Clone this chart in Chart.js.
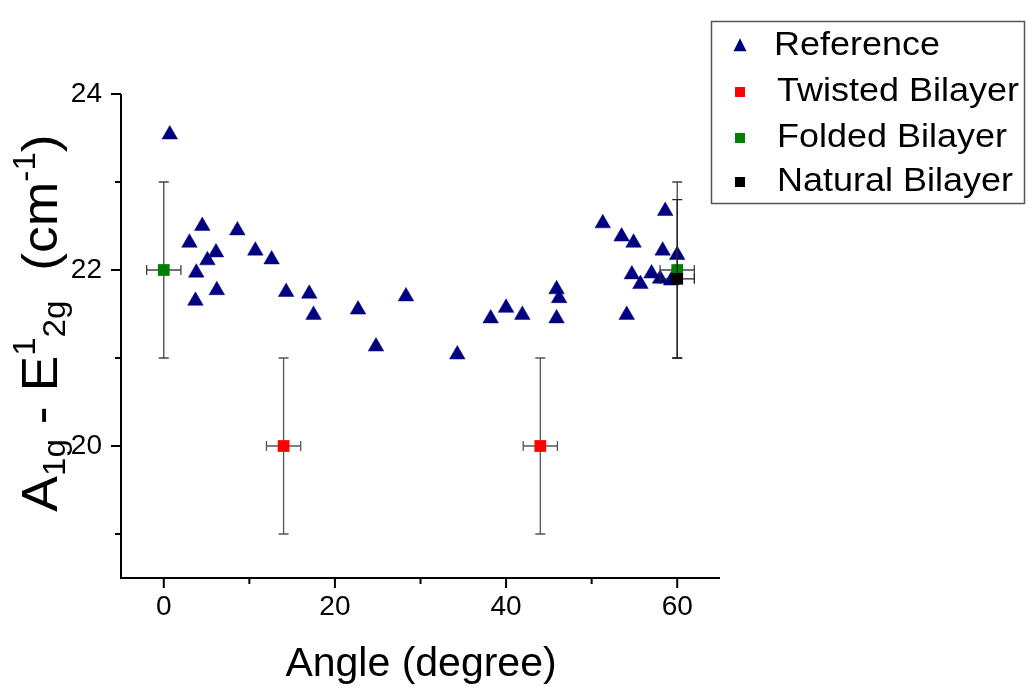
<!DOCTYPE html>
<html>
<head>
<meta charset="utf-8">
<script src="https://cdn.jsdelivr.net/npm/chart.js@4.4.1/dist/chart.umd.min.js"></script>
<style>
  html, body { margin: 0; padding: 0; background: #fff; }
  #wrap { width: 1029px; height: 687px; }
</style>
</head>
<body>
<div id="wrap"><canvas id="chart" width="1029" height="687"></canvas></div>
<script>
// -- data --
const refAngle = [0.7, 4.5, 8.6, 3.0, 6.1, 5.1, 10.7, 12.6, 3.8, 6.2, 3.7, 14.3, 17.0, 17.5,
  22.7, 24.8, 28.3, 34.3, 38.2, 40.0, 41.9, 45.9, 46.2, 45.9, 51.3, 53.5, 54.9,
  58.6, 58.3, 60.0, 54.7, 57.0, 55.7, 58.0, 59.3, 54.1];
const refShift = [23.54, 22.50, 22.45, 22.31, 22.20, 22.11, 22.22, 22.12, 21.97, 21.77, 21.65, 21.75, 21.73, 21.49,
  21.55, 21.13, 21.70, 21.04, 21.45, 21.57, 21.49, 21.78, 21.68, 21.45, 22.53, 22.38, 22.31,
  22.67, 22.22, 22.17, 21.95, 21.96, 21.84, 21.90, 21.88, 21.49];

const twistedAngle = [14, 44];
const twistedShift = [20, 20];
const twistedAngleErr = [2, 2];
const twistedShiftErr = [1, 1];

const foldedAngle = [0, 60];
const foldedShift = [22, 22];
const foldedAngleErr = [2, 2];
const foldedShiftErr = [1, 1];

const naturalAngle = [60];
const naturalShift = [21.9];
const naturalAngleErr = [2];
const naturalShiftErr = [0.9];

const xMajorTicks = [0, 20, 40, 60];
const xMinorTicks = [10, 30, 50];
const yMajorTicks = [20, 22, 24];
const yMinorTicks = [19, 21, 23];

const legendLabels = ['Reference', 'Twisted Bilayer', 'Folded Bilayer', 'Natural Bilayer'];
const xTitle = 'Angle (degree)';

const FONT = '"Liberation Sans", Arial, sans-serif';
const NAVY = '#000080';

const pts = (xs, ys) => xs.map((x, i) => ({ x, y: ys[i] }));

// error bars go under each dataset's own markers
const errorBars = {
  id: 'errorBars',
  beforeDatasetDraw(chart, args) {
    const ds = chart.data.datasets[args.index];
    if (!ds.xErr) return;
    const { ctx, scales: { x, y } } = chart;
    ctx.save();
    ctx.strokeStyle = ds.errColor;
    ctx.lineWidth = 1.3;
    ds.data.forEach((p, i) => {
      const px = x.getPixelForValue(p.x);
      const py = y.getPixelForValue(p.y);
      const y1 = y.getPixelForValue(p.y + ds.yErr[i]);
      const y2 = y.getPixelForValue(p.y - ds.yErr[i]);
      const x1 = x.getPixelForValue(p.x - ds.xErr[i]);
      const x2 = x.getPixelForValue(p.x + ds.xErr[i]);
      ctx.beginPath();
      ctx.moveTo(px, y1); ctx.lineTo(px, y2);
      ctx.moveTo(px - 5, y1); ctx.lineTo(px + 5, y1);
      ctx.moveTo(px - 5, y2); ctx.lineTo(px + 5, y2);
      ctx.moveTo(x1, py); ctx.lineTo(x2, py);
      ctx.moveTo(x1, py - 5); ctx.lineTo(x1, py + 5);
      ctx.moveTo(x2, py - 5); ctx.lineTo(x2, py + 5);
      ctx.stroke();
    });
    ctx.restore();
  },
};

function drawYTitle(ctx, cx, cy) {
  const parts = [
    { t: 'A', f: 50, dy: 0 },
    { t: '1g', f: 31, dy: 8 },
    { t: ' - ', f: 50, dy: 0 },
    { t: 'E', f: 50, dy: 0 },
    { t: '1', f: 31, dy: -22 },
    { t: '2g', f: 31, dy: 8 },
    { t: '  (cm', f: 50, dy: 0 },
    { t: '-1', f: 31, dy: -22 },
    { t: ')', f: 50, dy: 0 },
  ];
  ctx.save();
  let total = 0;
  parts.forEach(p => {
    ctx.font = p.f + 'px ' + FONT;
    p.w = ctx.measureText(p.t).width;
    total += p.w;
  });
  ctx.translate(cx, cy);
  ctx.rotate(-Math.PI / 2);
  ctx.scale(1.07, 1);
  ctx.fillStyle = '#000';
  ctx.textBaseline = 'alphabetic';
  let pos = -total / 2;
  parts.forEach(p => {
    ctx.font = p.f + 'px ' + FONT;
    ctx.fillText(p.t, pos, p.dy);
    pos += p.w;
  });
  ctx.restore();
}

function marker(ctx, kind, x, y, s, color) {
  ctx.fillStyle = color;
  ctx.beginPath();
  if (kind === 'tri') {
    ctx.moveTo(x, y - s * 0.6);
    ctx.lineTo(x + s / 2, y + s * 0.4);
    ctx.lineTo(x - s / 2, y + s * 0.4);
    ctx.closePath();
  } else {
    ctx.rect(x - s / 2, y - s / 2, s, s);
  }
  ctx.fill();
}

const frame = {
  id: 'frame',
  afterDraw(chart) {
    const { ctx, chartArea: a, scales: { x, y } } = chart;
    ctx.save();
    ctx.strokeStyle = '#000';
    ctx.lineWidth = 2;
    ctx.beginPath();
    ctx.moveTo(a.left, a.top);
    ctx.lineTo(a.left, a.bottom);
    ctx.lineTo(a.right, a.bottom);
    xMajorTicks.forEach(v => { const p = x.getPixelForValue(v); ctx.moveTo(p, a.bottom); ctx.lineTo(p, a.bottom + 10); });
    xMinorTicks.forEach(v => { const p = x.getPixelForValue(v); ctx.moveTo(p, a.bottom); ctx.lineTo(p, a.bottom + 6); });
    yMajorTicks.forEach(v => { const p = y.getPixelForValue(v); ctx.moveTo(a.left, p); ctx.lineTo(a.left - 10, p); });
    yMinorTicks.forEach(v => { const p = y.getPixelForValue(v); ctx.moveTo(a.left, p); ctx.lineTo(a.left - 6, p); });
    ctx.stroke();

    // axis titles
    ctx.fillStyle = '#000';
    ctx.font = '41px ' + FONT;
    ctx.textAlign = 'center';
    ctx.textBaseline = 'alphabetic';
    ctx.fillText(xTitle, 421, 676);
    ctx.textAlign = 'left';
    drawYTitle(ctx, 57, 323);

    // legend
    ctx.strokeStyle = '#555';
    ctx.lineWidth = 1.5;
    ctx.strokeRect(711.5, 21.5, 313, 182);
    const rows = [
      { kind: 'tri', color: NAVY, y: 46, tx: 774 },
      { kind: 'sq', color: '#ff0000', y: 92, tx: 777 },
      { kind: 'sq', color: '#008000', y: 138, tx: 777 },
      { kind: 'sq', color: '#000000', y: 182, tx: 777 },
    ];
    ctx.font = '33px ' + FONT;
    ctx.textBaseline = 'middle';
    rows.forEach((r, i) => {
      marker(ctx, r.kind, 740, r.y, r.kind === 'tri' ? 13 : 10, r.color);
      ctx.save();
      ctx.translate(r.tx, r.y);
      ctx.scale(1.09, 1);
      ctx.fillStyle = '#000';
      ctx.fillText(legendLabels[i], 0, 0);
      ctx.restore();
    });
    ctx.restore();
  },
};

const tickFont = { family: FONT, size: 28 };

new Chart(document.getElementById('chart'), {
  type: 'scatter',
  data: {
    datasets: [
      {
        label: legendLabels[0],
        data: pts(refAngle, refShift),
        pointStyle: 'triangle',
        pointRadius: 9,
        backgroundColor: NAVY,
        borderColor: NAVY,
        borderWidth: 0.5,
        order: 4,
      },
      {
        label: legendLabels[1],
        data: pts(twistedAngle, twistedShift),
        xErr: twistedAngleErr, yErr: twistedShiftErr, errColor: '#555',
        pointStyle: 'rect',
        pointRadius: 8.3,
        backgroundColor: '#ff0000',
        borderColor: '#ff0000',
        borderWidth: 0,
        order: 3,
      },
      {
        label: legendLabels[2],
        data: pts(foldedAngle, foldedShift),
        xErr: foldedAngleErr, yErr: foldedShiftErr, errColor: '#444',
        pointStyle: 'rect',
        pointRadius: 8.3,
        backgroundColor: '#008000',
        borderColor: '#008000',
        borderWidth: 0,
        order: 2,
      },
      {
        label: legendLabels[3],
        data: pts(naturalAngle, naturalShift),
        xErr: naturalAngleErr, yErr: naturalShiftErr, errColor: '#222',
        pointStyle: 'rect',
        pointRadius: 8.3,
        backgroundColor: '#000000',
        borderColor: '#000000',
        borderWidth: 0,
        order: 1,
      },
    ],
  },
  options: {
    responsive: false,
    animation: false,
    layout: { padding: { left: 0, top: 94, right: 309, bottom: 0 } },
    plugins: { legend: { display: false }, tooltip: { enabled: false } },
    scales: {
      x: {
        type: 'linear',
        min: -5,
        max: 65,
        afterBuildTicks: s => { s.ticks = xMajorTicks.map(v => ({ value: v })); },
        afterFit: s => { s.height = 109; },
        grid: { display: false, drawTicks: false },
        border: { display: false },
        ticks: { font: tickFont, color: '#000', padding: 12, maxRotation: 0, autoSkip: false },
      },
      y: {
        type: 'linear',
        min: 18.5,
        max: 24,
        afterBuildTicks: s => { s.ticks = yMajorTicks.map(v => ({ value: v })); },
        afterFit: s => { s.width = 121; },
        grid: { display: false, drawTicks: false },
        border: { display: false },
        ticks: { font: tickFont, color: '#000', padding: 19 },
      },
    },
  },
  plugins: [errorBars, frame],
});
</script>
</body>
</html>
